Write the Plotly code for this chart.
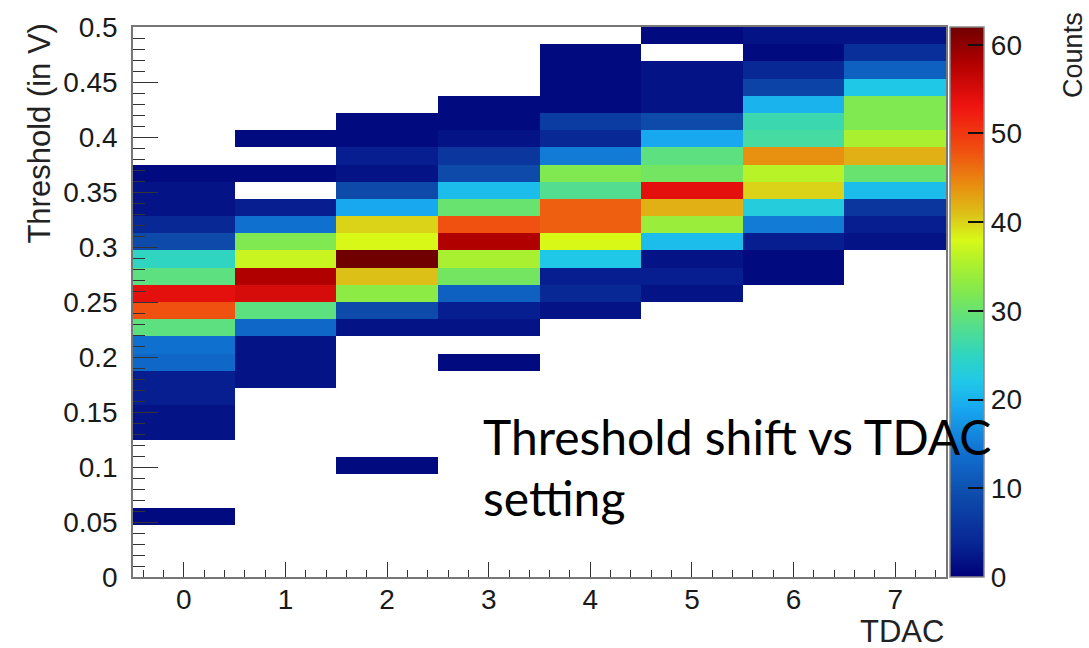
import plotly.graph_objects as go

N = None
# TDAC settings (x categories)
tdac = [0, 1, 2, 3, 4, 5, 6, 7]
# threshold binning: 32 bins from 0 to 0.5 V
n_bins = 32
y_max = 0.5
bin_w = y_max / n_bins
threshold_centers = [(k + 0.5) * bin_w for k in range(n_bins)]

# counts per threshold bin, bottom (bin 0) to top (bin 31)
counts_tdac0 = [N, N, N, 1, N, N, N, N, 2, 2, 3, 3, 13, 14, 29, 48,
                54, 29, 25, 9, 4, 2, 2, 1, N, N, N, N, N, N, N, N]
counts_tdac1 = [N, N, N, N, N, N, N, N, N, N, N, 2, 2, 2, 13, 29,
                55, 58, 37, 32, 14, 3, N, 1, N, 1, N, N, N, N, N, N]
counts_tdac2 = [N, N, N, N, N, N, 1, N, N, N, N, N, N, N, 2, 9,
                33, 41, 62, 38, 40, 19, 9, 2, 3, 1, 1, N, N, N, N, N]
counts_tdac3 = [N, N, N, N, N, N, N, N, N, N, N, N, 1, N, 2, 3,
                12, 31, 35, 58, 48, 30, 21, 9, 6, 2, 1, 1, N, N, N, N]
counts_tdac4 = [N, N, N, N, N, N, N, N, N, N, N, N, N, N, N, 2,
                4, 3, 22, 38, 47, 47, 28, 32, 15, 4, 7, 1, 1, 1, 1, N]
counts_tdac5 = [N, N, N, N, N, N, N, N, N, N, N, N, N, N, N, N,
                2, 3, 2, 21, 34, 42, 54, 31, 29, 19, 9, 2, 2, 2, N, 1]
counts_tdac6 = [N, N, N, N, N, N, N, N, N, N, N, N, N, N, N, N,
                N, 1, 1, 3, 15, 23, 40, 36, 44, 27, 26, 20, 8, 4, 1, 2]
counts_tdac7 = [N, N, N, N, N, N, N, N, N, N, N, N, N, N, N, N,
                N, N, N, 2, 3, 6, 21, 30, 42, 35, 32, 32, 22, 12, 5, 2]

columns = [counts_tdac0, counts_tdac1, counts_tdac2, counts_tdac3,
           counts_tdac4, counts_tdac5, counts_tdac6, counts_tdac7]
z = [[col[k] for col in columns] for k in range(n_bins)]

y_tickvals = [0, 0.05, 0.1, 0.15, 0.2, 0.25, 0.3, 0.35, 0.4, 0.45, 0.5]
y_ticktext = ["0", "0.05", "0.1", "0.15", "0.2", "0.25", "0.3", "0.35", "0.4", "0.45", "0.5"]
cbar_ticks = [0, 10, 20, 30, 40, 50, 60]
z_max = 62

# palette stops (count value, rgb)
palette = [
    (0, (0, 0, 120)), (4, (8, 40, 150)), (9, (13, 74, 170)), (14, (16, 112, 208)),
    (19, (24, 168, 240)), (22, (32, 200, 232)), (25, (47, 213, 192)),
    (29, (93, 224, 128)), (32, (128, 232, 80)), (35, (168, 240, 48)),
    (38, (216, 248, 24)), (41, (220, 192, 24)), (44, (232, 144, 16)),
    (48, (240, 80, 16)), (53, (240, 20, 16)), (58, (176, 0, 0)), (62, (112, 0, 0)),
]
colorscale = [[v / z_max, "rgb(%d,%d,%d)" % c] for v, c in palette]

tick_font = dict(family="Liberation Sans, Arial, sans-serif", size=28, color="#1a1a1a")

fig = go.Figure(go.Heatmap(
    x=tdac, y=threshold_centers, z=z,
    zmin=0, zmax=z_max, colorscale=colorscale,
    colorbar=dict(
        x=1.005, xanchor="left", xpad=0, y=0, yanchor="bottom", ypad=0,
        len=1, lenmode="fraction", thickness=34,
        outlinecolor="#888", outlinewidth=1.5,
        tickvals=cbar_ticks, ticks="inside", ticklen=16, tickcolor="#111", tickwidth=1.5,
        tickfont=tick_font, ticklabelposition="outside",
    ),
    hoverongaps=False,
))

fig.update_layout(
    width=1089, height=648,
    margin=dict(l=133, r=143, t=20, b=71),
    paper_bgcolor="white", plot_bgcolor="white",
    xaxis=dict(
        range=[-0.5, 7.5], tickvals=tdac, ticks="inside", ticklen=15, tickwidth=1.2,
        tickcolor="#333", tickfont=tick_font, ticklabelstandoff=-3,
        minor=dict(dtick=0.2, tick0=0, ticks="inside", ticklen=7, tickcolor="#333", tickwidth=1),
        showline=True, linecolor="#777", linewidth=1.5, mirror=True, showgrid=False,
        zeroline=False,
    ),
    yaxis=dict(
        range=[0, y_max], tickvals=y_tickvals, ticktext=y_ticktext, ticks="inside",
        ticklen=25, tickwidth=1.2, tickcolor="#333", tickfont=tick_font, ticklabelstandoff=8,
        minor=dict(dtick=0.01, tick0=0, ticks="inside", ticklen=12, tickcolor="#333", tickwidth=1),
        showline=True, linecolor="#777", linewidth=1.5, mirror=True, showgrid=False,
        zeroline=False,
    ),
    annotations=[
        dict(text="Threshold (in V)", xref="paper", yref="paper", x=-0.1144, y=0.808,
             textangle=-90, showarrow=False, xanchor="center", yanchor="middle",
             font=dict(family="Liberation Sans, Arial, sans-serif", size=31, color="#222")),
        dict(text="TDAC", xref="paper", yref="paper", x=1.0, y=-0.0987,
             showarrow=False, xanchor="right", yanchor="middle",
             font=dict(family="Liberation Sans, Arial, sans-serif", size=31, color="#222")),
        dict(text="Counts", xref="paper", yref="paper", x=1.1555, y=0.95,
             textangle=-90, showarrow=False, xanchor="center", yanchor="middle",
             font=dict(family="Liberation Sans, Arial, sans-serif", size=27, color="#222")),
        dict(text="Threshold shift vs TDAC", xref="paper", yref="paper", x=0.428, y=0.2549,
             showarrow=False, xanchor="left", yanchor="middle",
             font=dict(family="Lato", size=48, color="black")),
        dict(text="setting", xref="paper", yref="paper", x=0.428, y=0.1454,
             showarrow=False, xanchor="left", yanchor="middle",
             font=dict(family="Lato", size=48, color="black")),
    ],
)

fig.write_html("out.html")
